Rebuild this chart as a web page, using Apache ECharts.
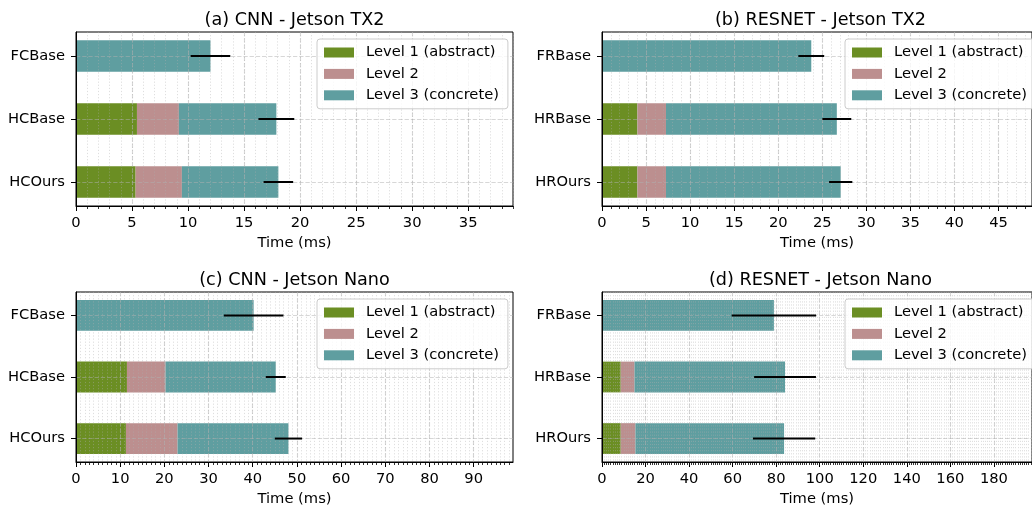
<!DOCTYPE html>
<html><head><meta charset="utf-8">
<script src="https://cdn.jsdelivr.net/npm/echarts@6/dist/echarts.min.js"></script>
<style>html,body{margin:0;padding:0;background:#fff}#c{width:1032px;height:508px}</style>
</head><body><div id="c"></div><script>
const FONT = '"DejaVu Sans", sans-serif';
const levelNames = ['Level 1 (abstract)', 'Level 2', 'Level 3 (concrete)'];
const levelColors = ['#6b8e23', '#bc8f8f', '#5f9ea0'];
const titles = ['(a) CNN - Jetson TX2', '(b) RESNET - Jetson TX2', '(c) CNN - Jetson Nano', '(d) RESNET - Jetson Nano'];
const catsCNN = ['FCBase', 'HCBase', 'HCOurs'];
const catsRES = ['FRBase', 'HRBase', 'HROurs'];

// (a) CNN - Jetson TX2
const a_level1 = [0, 5.44, 5.32];
const a_level2 = [0, 3.74, 4.13];
const a_level3 = [12.0, 8.70, 8.61];
const a_err = [1.77, 1.60, 1.32];
const a_ticks = [0, 5, 10, 15, 20, 25, 30, 35];
const a_max = 39.0;
// (b) RESNET - Jetson TX2
const b_level1 = [0, 4.02, 4.02];
const b_level2 = [0, 3.24, 3.24];
const b_level3 = [23.75, 19.39, 19.83];
const b_err = [1.47, 1.64, 1.32];
const b_ticks = [0, 5, 10, 15, 20, 25, 30, 35, 40, 45];
const b_max = 48.8;
// (c) CNN - Jetson Nano
const c_level1 = [0, 11.53, 11.30];
const c_level2 = [0, 8.74, 11.68];
const c_level3 = [40.2, 24.94, 25.10];
const c_err = [6.75, 2.26, 3.09];
const c_ticks = [0, 10, 20, 30, 40, 50, 60, 70, 80, 90];
const c_max = 98.9;
// (d) RESNET - Jetson Nano
const d_level1 = [0, 8.59, 8.59];
const d_level2 = [0, 6.33, 6.78];
const d_level3 = [78.95, 69.15, 68.25];
const d_err = [19.4, 14.2, 14.3];
const d_ticks = [0, 20, 40, 60, 80, 100, 120, 140, 160, 180];
const d_max = 197.5;

const panels = [
  {title: titles[0], cats: catsCNN, levels: [a_level1, a_level2, a_level3], err: a_err, ticks: a_ticks, max: a_max, left: 76, top: 32, legLeft: 317},
  {title: titles[1], cats: catsRES, levels: [b_level1, b_level2, b_level3], err: b_err, ticks: b_ticks, max: b_max, left: 602, top: 32, legLeft: 845},
  {title: titles[2], cats: catsCNN, levels: [c_level1, c_level2, c_level3], err: c_err, ticks: c_ticks, max: c_max, left: 76, top: 292, legLeft: 317},
  {title: titles[3], cats: catsRES, levels: [d_level1, d_level2, d_level3], err: d_err, ticks: d_ticks, max: d_max, left: 602, top: 292, legLeft: 845}
];
const GW = 437, GH = 174;

function barItem(params, api) {
  const y = api.value(0), x0 = api.value(1), x1 = api.value(2);
  if (!(x1 > x0)) return null;
  const p0 = api.coord([x0, y]);
  const p1 = api.coord([x1, y]);
  const h = api.size([0, 0.5])[1];
  return {type: 'rect', shape: {x: p0[0], y: p0[1] - h / 2, width: p1[0] - p0[0], height: h},
    style: {fill: api.visual('color')}};
}
function errItem(params, api) {
  const y = api.value(0);
  const p0 = api.coord([api.value(1), y]);
  const p1 = api.coord([api.value(2), y]);
  return {type: 'line', shape: {x1: p0[0], y1: p0[1], x2: p1[0], y2: p1[1]},
    style: {stroke: '#000', lineWidth: 2}};
}

const option = {animation: false, backgroundColor: '#fff', grid: [], xAxis: [], yAxis: [], legend: [], series: [], graphic: []};
panels.forEach((p, k) => {
  option.grid.push({left: p.left, top: p.top, width: GW, height: GH, show: true, borderColor: '#000', borderWidth: 1, backgroundColor: 'transparent'});
  option.graphic.push({type: 'text', x: p.left + GW / 2, y: p.top - 12, z: 10,
    style: {text: p.title, fontSize: 17.6, fontFamily: FONT, fill: '#000', align: 'center', verticalAlign: 'middle', textAlign: 'center', textVerticalAlign: 'middle'}});
  const minorVals = [];
  for (let v = 0; v <= Math.floor(p.max); v++) minorVals.push(v);
  // minor axis
  option.xAxis.push({gridIndex: k, type: 'value', min: 0, max: p.max, position: 'bottom', z: 3,
    axisLine: {show: true, onZero: false, lineStyle: {color: '#000', width: 1}},
    axisTick: {show: true, length: 3, customValues: minorVals, lineStyle: {color: '#000', width: 0.8}},
    axisLabel: {show: false},
    splitLine: {show: true, lineStyle: {color: 'rgba(176,176,176,0.4)', type: [1.2, 1.9], width: 1}}});
  // major axis
  option.xAxis.push({gridIndex: k, type: 'value', min: 0, max: p.max, position: 'bottom', z: 3,
    name: 'Time (ms)', nameLocation: 'middle', nameGap: 30,
    nameTextStyle: {fontSize: 14.7, fontFamily: FONT, color: '#000'},
    axisLine: {show: false, onZero: false},
    axisTick: {show: true, length: 5, customValues: p.ticks, lineStyle: {color: '#000', width: 1}},
    axisLabel: {show: true, customValues: p.ticks, margin: 10, fontSize: 14.7, fontFamily: FONT, color: '#000'},
    splitLine: {show: true, lineStyle: {color: 'rgba(176,176,176,0.5)', type: [4.3, 1.9], width: 1.1}}});
  const catIdx = p.cats.map((_, i) => i);
  option.yAxis.push({gridIndex: k, type: 'value', inverse: true, min: -0.381, max: 2.381, z: 3,
    axisLine: {show: true, onZero: false, lineStyle: {color: '#000', width: 1}},
    axisTick: {show: true, length: 5, customValues: catIdx, lineStyle: {color: '#000', width: 1}},
    axisLabel: {show: true, customValues: catIdx, formatter: v => p.cats[Math.round(v)], margin: 11, fontSize: 14.7, fontFamily: FONT, color: '#000'},
    splitLine: {show: true, lineStyle: {color: 'rgba(176,176,176,0.5)', type: [4.3, 1.9], width: 1.1}}});
  const starts = p.cats.map(() => 0);
  p.levels.forEach((vals, L) => {
    const data = vals.map((v, i) => { const s = starts[i]; starts[i] += v; return [i, s, s + v]; });
    option.series.push({type: 'custom', name: levelNames[L], xAxisIndex: 2 * k + 1, yAxisIndex: k, z: 2,
      itemStyle: {color: levelColors[L]}, encode: {x: [1, 2], y: 0}, renderItem: barItem, data: data});
  });
  const errData = p.err.map((e, i) => [i, starts[i] - e, starts[i] + e]);
  option.series.push({type: 'custom', name: 'err' + k, xAxisIndex: 2 * k + 1, yAxisIndex: k, z: 5,
    encode: {x: [1, 2], y: 0}, renderItem: errItem, data: errData});
  option.legend.push({left: p.legLeft, top: p.top + 7, orient: 'vertical', data: levelNames, icon: 'rect',
    itemWidth: 30, itemHeight: 10, itemGap: 4.4, padding: [5, 9, 5, 7], borderColor: '#ccc', borderWidth: 1,
    borderRadius: 3, backgroundColor: 'rgba(255,255,255,0.8)', selectedMode: false, z: 6,
    textStyle: {fontSize: 14.7, fontFamily: FONT, color: '#000', lineHeight: 17, padding: [0, 0, 0, 7]}});
});
const chart = echarts.init(document.getElementById('c'), null, {renderer: 'canvas'});
chart.setOption(option);
</script></body></html>
